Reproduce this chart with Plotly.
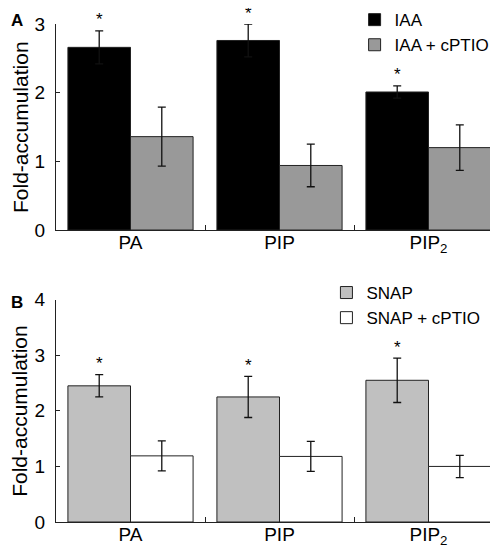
import plotly.graph_objects as go

categories = ["PA", "PIP", "PIP<sub>2</sub>"]

iaa = [2.66, 2.76, 2.01]
iaa_err = [0.24, 0.24, 0.09]
iaa_cptio = [1.36, 0.94, 1.20]
iaa_cptio_err = [0.43, 0.31, 0.33]

snap = [2.45, 2.25, 2.55]
snap_err = [0.20, 0.37, 0.40]
snap_cptio = [1.19, 1.18, 1.00]
snap_cptio_err = [0.27, 0.27, 0.20]

significant_a = [True, True, True]
significant_b = [True, True, True]

y_title = "Fold-accumulation"

FONT = "Liberation Sans, Arial, sans-serif"
OUTLINE = "#222222"
BARGAP = 0.16
xs = list(range(len(categories)))
half = (1 - BARGAP) / 4  # centre offset of first bar in each group

fig = go.Figure()


def add_bar(name, vals, errs, color, xa, ya, legend):
    fig.add_trace(go.Bar(
        x=xs, y=vals, name=name, xaxis=xa, yaxis=ya, legend=legend,
        marker=dict(color=color, line=dict(color=OUTLINE, width=1)),
        error_y=dict(type="data", array=errs, color="#111111", thickness=1.3, width=4),
    ))


add_bar("IAA", iaa, iaa_err, "#000000", "x", "y", "legend")
add_bar("IAA + cPTIO", iaa_cptio, iaa_cptio_err, "#999999", "x", "y", "legend")
add_bar("SNAP", snap, snap_err, "#c0c0c0", "x2", "y2", "legend2")
add_bar("SNAP + cPTIO", snap_cptio, snap_cptio_err, "#ffffff", "x2", "y2", "legend2")


def add_stars(vals, errs, sig, xa, ya):
    for x, v, e, s in zip(xs, vals, errs, sig):
        if s:
            fig.add_annotation(
                x=x - half, y=v + e, xref=xa, yref=ya, text="*", showarrow=False,
                xanchor="center", yanchor="middle", yshift=11,
                font=dict(size=17, color="#000000", family=FONT),
            )


add_stars(iaa, iaa_err, significant_a, "x", "y")
add_stars(snap, snap_err, significant_b, "x2", "y2")

xaxis_common = dict(
    range=[-0.5, 2.5], tickmode="array", tickvals=xs, ticktext=categories,
    ticks="", showline=True, linecolor="#222222", linewidth=1, showgrid=False,
    zeroline=False, tickfont=dict(size=19, family=FONT, color="#000000"),
    ticklabelstandoff=-5,
    minor=dict(tickmode="array", tickvals=[0.5, 1.5, 2.5], ticks="inside",
               ticklen=5, tickcolor="#222222", tickwidth=1),
)
yaxis_common = dict(
    showline=True, linecolor="#222222", linewidth=1, showgrid=False, zeroline=False,
    ticks="inside", ticklen=4, tickcolor="#222222", dtick=1,
    tickfont=dict(size=19, family=FONT, color="#000000"),
    ticklabelstandoff=6,
)

DOM_A = [0.5863, 1.0]
DOM_B = [0, 0.4464]

fig.update_layout(
    width=498, height=552,
    margin=dict(l=48, r=3, t=16, b=38, autoexpand=False),
    paper_bgcolor="white", plot_bgcolor="white",
    barmode="group", bargap=BARGAP, bargroupgap=0,
    font=dict(family=FONT, color="#000000"),
    xaxis=dict(xaxis_common, anchor="y", domain=[0, 1]),
    yaxis=dict(yaxis_common, anchor="x", domain=DOM_A, range=[0, 3]),
    xaxis2=dict(xaxis_common, anchor="y2", domain=[0, 1]),
    yaxis2=dict(yaxis_common, anchor="x2", domain=DOM_B, range=[0, 4]),
    legend=dict(x=0.668, xanchor="left", y=1.044, yanchor="top",
                font=dict(size=17, family=FONT, color="#000000"),
                bgcolor="rgba(0,0,0,0)", tracegroupgap=0),
    legend2=dict(x=0.605, xanchor="left", y=0.496, yanchor="top",
                 font=dict(size=17, family=FONT, color="#000000"),
                 bgcolor="rgba(0,0,0,0)", tracegroupgap=0),
    showlegend=True,
)

plot_w = 498 - 48 - 3
plot_h = 552 - 16 - 38

# y-axis titles, centred on each panel's domain
for dom in (DOM_A, DOM_B):
    fig.add_annotation(
        text=y_title, textangle=-90, x=(12 - 48) / plot_w, y=sum(dom) / 2,
        xref="paper", yref="paper", xanchor="center", yanchor="middle", showarrow=False,
        font=dict(size=21, family=FONT, color="#000000"),
    )

# panel letters, placed in pixel terms converted to paper coords
for letter, (px, py) in zip(["A", "B"], [(9, 13), (9, 294)]):
    fig.add_annotation(
        text=f"<b>{letter}</b>", x=(px - 48) / plot_w, y=(552 - 38 - py) / plot_h,
        xref="paper", yref="paper", xanchor="center", yanchor="middle", showarrow=False,
        font=dict(size=17, family=FONT, color="#000000"),
    )

fig.write_html("out.html")
